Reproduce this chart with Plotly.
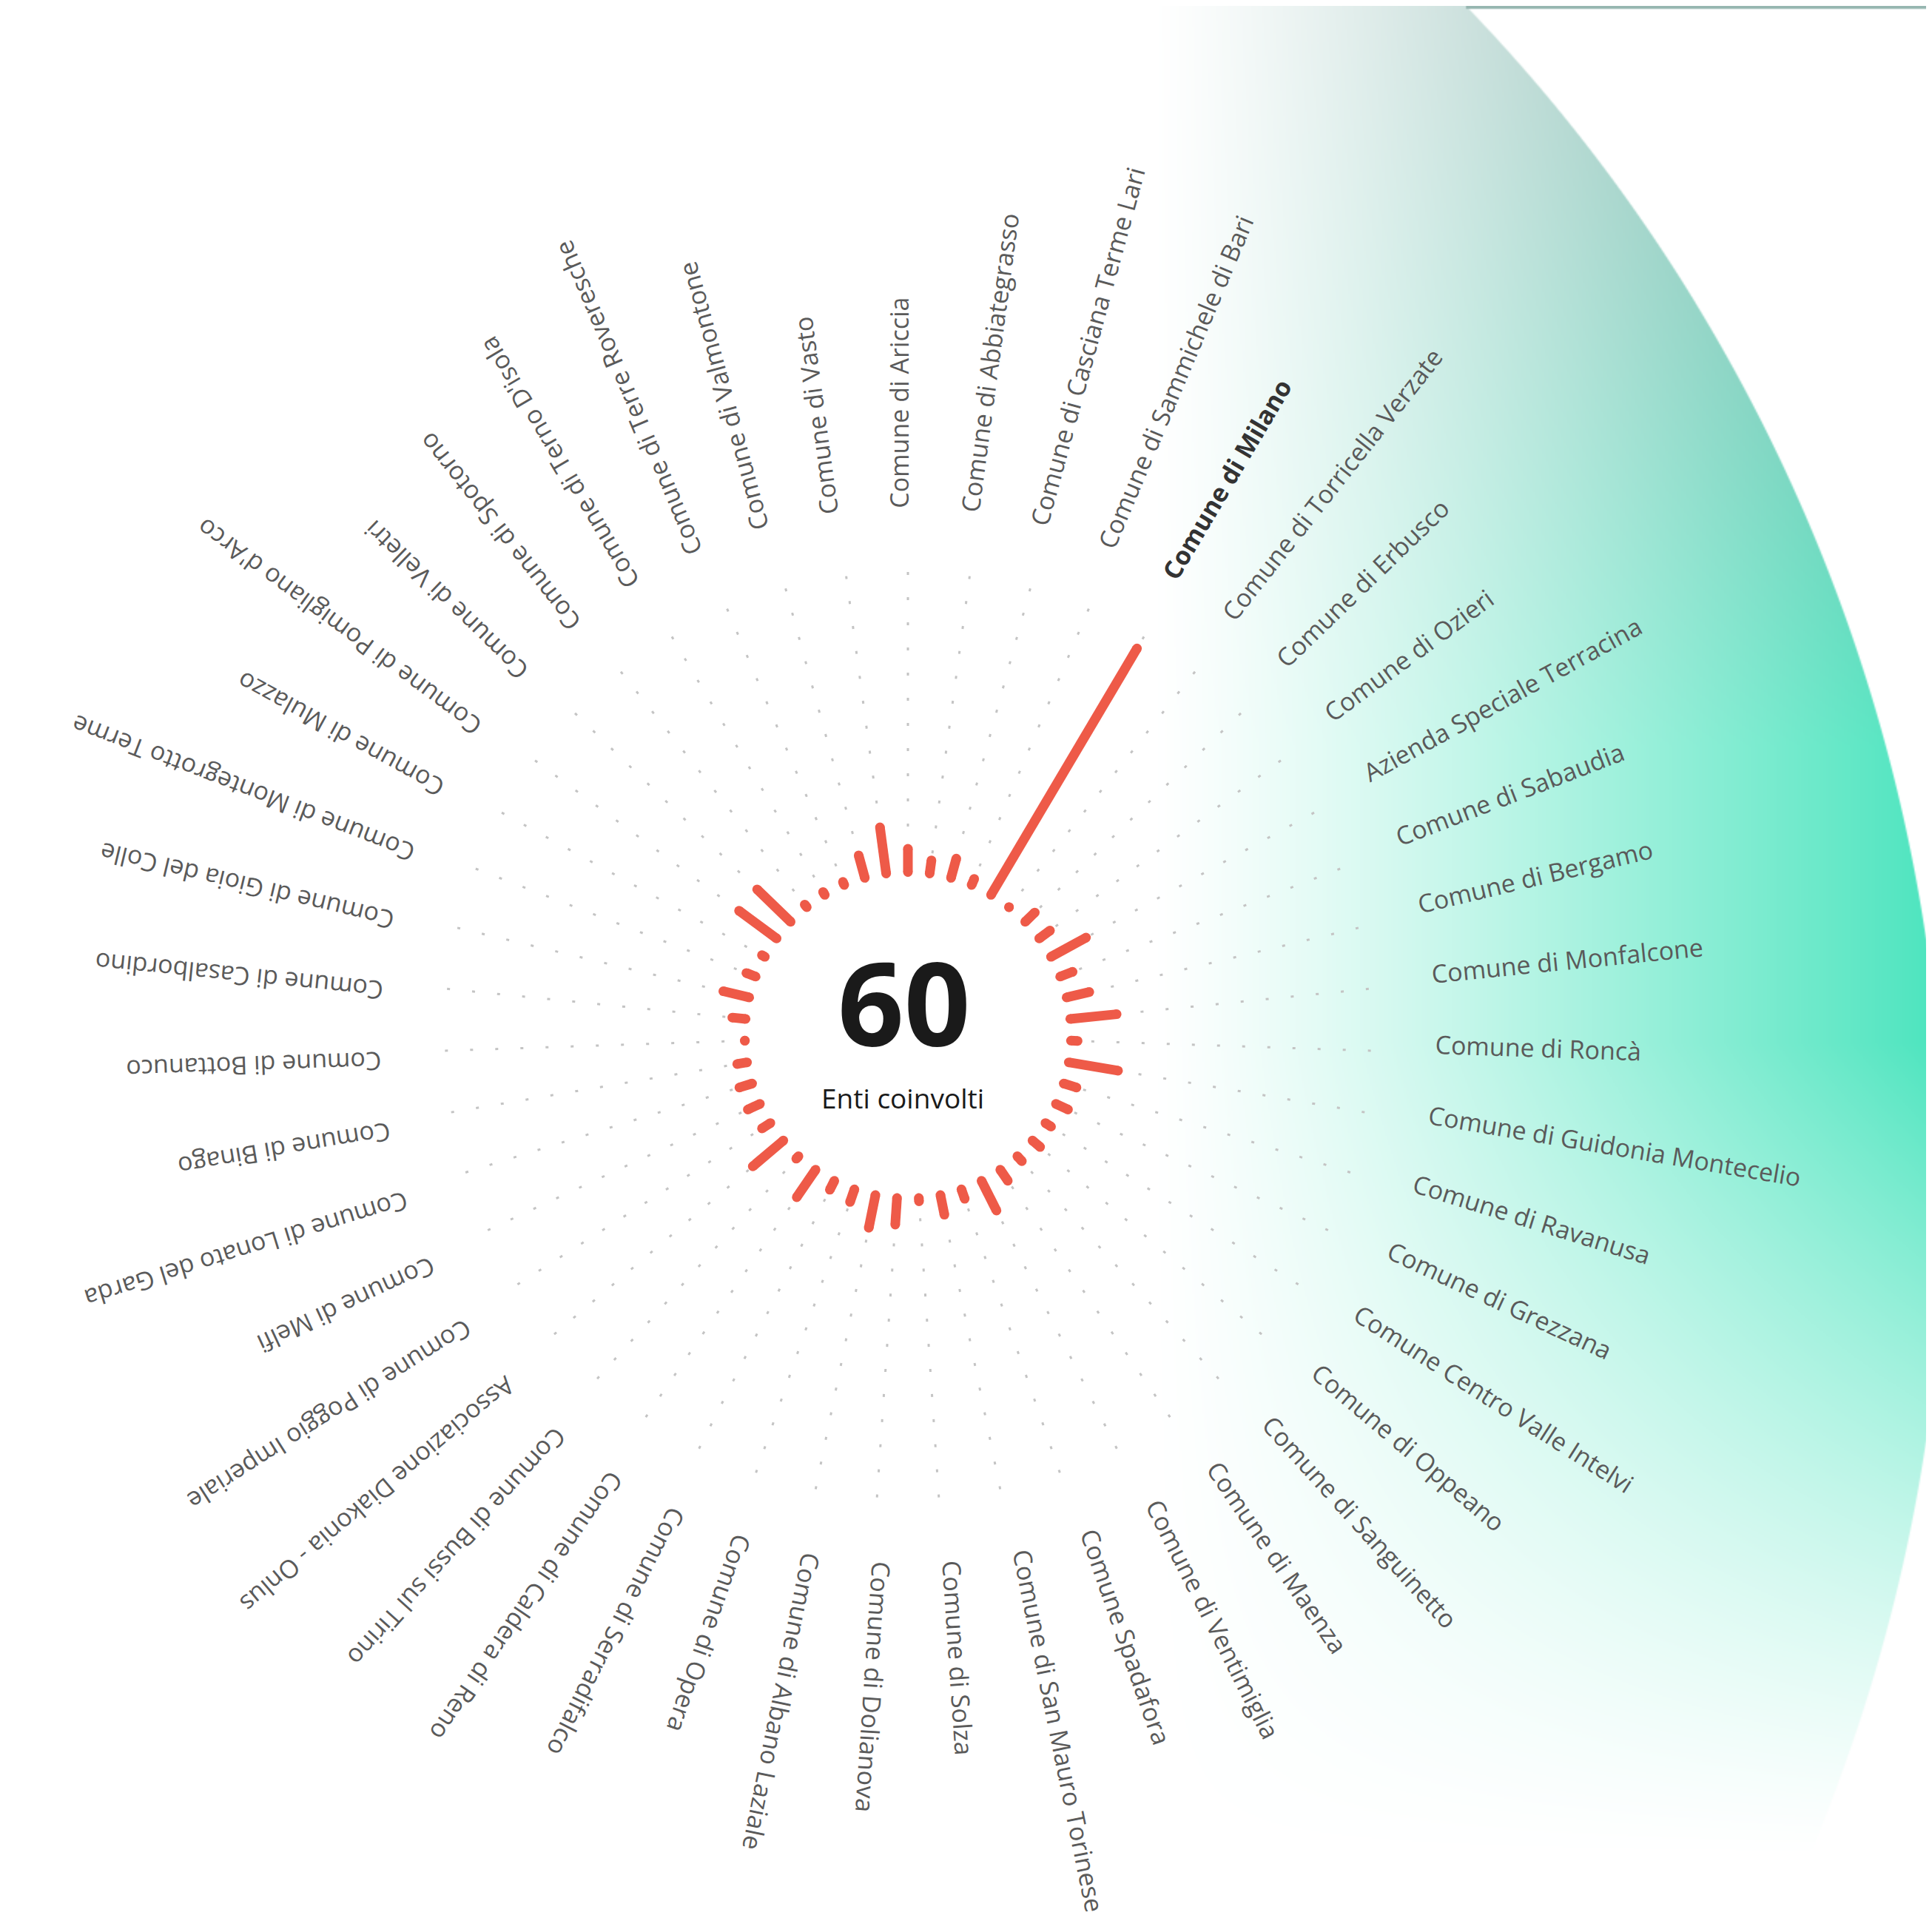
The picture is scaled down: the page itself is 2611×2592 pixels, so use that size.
import numpy as np
import plotly.graph_objects as go
import zlib, struct, base64

# ---------------- data ----------------
labels = [
    "Comune di Ariccia", "Comune di Abbiategrasso", "Comune di Casciana Terme Lari",
    "Comune di Sammichele di Bari", "Comune di Milano", "Comune di Torricella Verzate",
    "Comune di Erbusco", "Comune di Ozieri", "Azienda Speciale Terracina",
    "Comune di Sabaudia", "Comune di Bergamo", "Comune di Monfalcone",
    "Comune di Roncà", "Comune di Guidonia Montecelio", "Comune di Ravanusa",
    "Comune di Grezzana", "Comune Centro Valle Intelvi", "Comune di Oppeano",
    "Comune di Sanguinetto", "Comune di Maenza", "Comune di Ventimiglia",
    "Comune Spadafora", "Comune di San Mauro Torinese", "Comune di Solza",
    "Comune di Dolianova", "Comune di Albano Laziale", "Comune di Opera",
    "Comune di Serradifalco", "Comune di Caldera di Reno", "Comune di Bussi sul Tirino",
    "Associazione Diakonia - Onlus", "Comune di Poggio Imperiale", "Comune di Melfi",
    "Comune di Lonato del Garda", "Comune di Binago", "Comune di Bottanuco",
    "Comune di Casalbordino", "Comune di Gioia del Colle", "Comune di Montegrotto Terme",
    "Comune di Mulazzo", "Comune di Pomigliano d'Arco", "Comune di Velletri",
    "Comune di Spotorno", "Comune di Terno D'isola", "Comune di Terre Roveresche",
    "Comune di Valmontone", "Comune di Vasto",
]
values = [7, 4, 6, 2, 86, 0, 4, 4, 12, 4, 7, 14, 2, 15, 4, 4, 2, 3, 2, 4, 10, 3, 6, 1,
          8, 10, 4, 3, 10, 1, 12, 3, 4, 4, 3, 0, 4, 8, 3, 1, 14, 14, 1, 1, 1, 7, 14]
highlight = "Comune di Milano"
center_number = "60"
center_caption = "Enti coinvolti"

# ---------------- layout constants ----------------
W, H = 2611, 2592
CX, CY = 1219, 1391          # ring centre (px)
R_OUT = 633                  # outer radius of polar area (px)
R_IN = 214                   # inner ring radius (px)
PX_PER_UNIT = 4.5
BAR_W = 13
LABEL_R = 712
LABEL_SHIFT = 12             # perpendicular shift (label sits beside its ray)
RED = "#EE5A48"
N = len(labels)

# ---------------- background gradient image ----------------
def make_background():
    w2, h2 = 1306, 1296
    X = (np.arange(w2) + 0.5) * W / w2
    Y = (np.arange(h2) + 0.5) * H / h2
    XX, YY = np.meshgrid(X, Y)
    gcx, gcy, gR = 318.0, 1600.0, 2302.0
    d = np.sqrt((XX - gcx) ** 2 + (YY - gcy) ** 2)
    edge = np.clip((gR - d) / 2.0 + 0.5, 0, 1)
    u = np.clip((XX - 1550) / 1060, 0, 1) ** 1.2
    v = np.clip(1 - (YY - 1400) / 1100, 0, 1) ** 1.15
    s = np.clip(YY / 1000, 0, 1)[..., None]
    T = np.array([105, 165, 155], float)
    G = np.array([76, 228, 190], float)
    tone = T * (1 - s) + G * s
    inten = (u * v * edge)[..., None]
    img = 255 - inten * (255 - tone)
    top = (YY < 4) & (XX >= 1973)
    img[top] = np.array([150, 182, 176])
    img = np.clip(np.round(img), 0, 255).astype(np.int16)
    f = np.empty_like(img)
    f[:, 0, :] = img[:, 0, :]
    f[:, 1:, :] = (img[:, 1:, :] - img[:, :-1, :]) % 256
    rows = np.concatenate([np.ones((h2, 1), np.uint8), f.astype(np.uint8).reshape(h2, -1)], axis=1)
    comp = zlib.compress(rows.tobytes(), 9)

    def chunk(tag, data):
        return struct.pack(">I", len(data)) + tag + data + struct.pack(">I", zlib.crc32(tag + data) & 0xFFFFFFFF)

    ihdr = struct.pack(">IIBBBBB", w2, h2, 8, 2, 0, 0, 0)
    png = b"\x89PNG\r\n\x1a\n" + chunk(b"IHDR", ihdr) + chunk(b"IDAT", comp) + chunk(b"IEND", b"")
    return "data:image/png;base64," + base64.b64encode(png).decode()

# ---------------- bars ----------------
cap = (BAR_W / 2) / PX_PER_UNIT
r_list, th_list = [], []
for lab, val in zip(labels, values):
    r_list += [cap, cap + val, None]
    th_list += [lab, lab, lab]

fig = go.Figure()
fig.add_trace(go.Scatterpolar(
    r=r_list, theta=th_list, mode="lines+markers",
    line=dict(color=RED, width=BAR_W),
    marker=dict(color=RED, size=BAR_W, line=dict(width=0)),
    connectgaps=False, hoverinfo="skip", showlegend=False,
))

# ---------------- labels ----------------
annotations = []
for i, lab in enumerate(labels):
    th = 360.0 * i / N
    rad = np.deg2rad(th)
    px = CX + LABEL_R * np.sin(rad) - LABEL_SHIFT * np.cos(rad)
    py = CY - LABEL_R * np.cos(rad) - LABEL_SHIFT * np.sin(rad)
    if lab == highlight:
        txt = f'<span style="color:rgba(255,255,255,0)"><b>{lab}</b></span><b>{lab}</b>'
        col = "#333333"
    else:
        txt = f'<span style="color:rgba(255,255,255,0)">{lab}</span>{lab}'
        col = "#5a5a5a"
    annotations.append(dict(
        x=px / W, y=1 - py / H, xref="paper", yref="paper", text=txt,
        showarrow=False, textangle=th - 90, xanchor="center", yanchor="middle",
        font=dict(family="Open Sans", size=34, color=col),
    ))

annotations.append(dict(
    x=1214 / W, y=1 - 1344 / H, xref="paper", yref="paper", text=f"<b>{center_number}</b>",
    showarrow=False, xanchor="center", yanchor="middle",
    font=dict(family="Open Sans", size=157, color="#1a1a1a"),
))
annotations.append(dict(
    x=1212 / W, y=1 - 1475 / H, xref="paper", yref="paper", text=center_caption,
    showarrow=False, xanchor="center", yanchor="middle",
    font=dict(family="Open Sans", size=37, color="#1a1a1a"),
))

fig.update_layout(
    width=W, height=H, margin=dict(l=0, r=0, t=0, b=0),
    paper_bgcolor="white", plot_bgcolor="rgba(0,0,0,0)",
    showlegend=False,
    images=[dict(source=make_background(), xref="paper", yref="paper", x=0, y=1,
                 sizex=1, sizey=1, xanchor="left", yanchor="top", sizing="stretch",
                 layer="below")],
    polar=dict(
        domain=dict(x=[(CX - R_OUT) / W, (CX + R_OUT) / W],
                    y=[(H - CY - R_OUT) / H, (H - CY + R_OUT) / H]),
        hole=R_IN / R_OUT,
        bgcolor="rgba(0,0,0,0)",
        radialaxis=dict(range=[0, (R_OUT - R_IN) / PX_PER_UNIT], visible=False),
        angularaxis=dict(type="category", categoryarray=labels, rotation=90,
                         direction="clockwise", showgrid=True, gridcolor="#c4c4c4",
                         gridwidth=3, griddash="4px,30px", showticklabels=False,
                         ticks="", showline=False),
    ),
    annotations=annotations,
)

fig.write_html("out.html")
